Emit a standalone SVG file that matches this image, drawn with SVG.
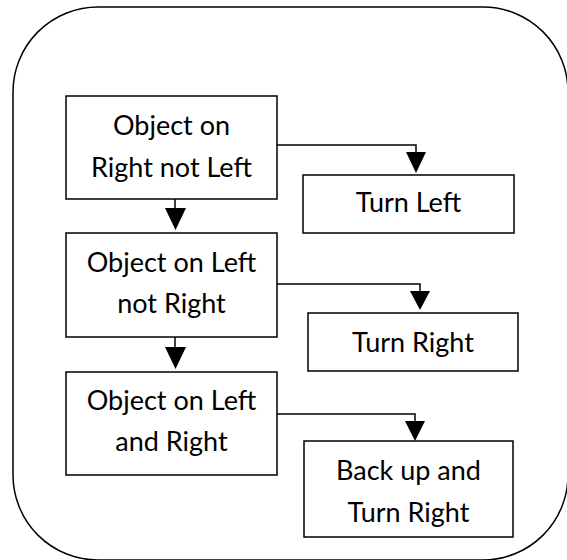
<svg xmlns="http://www.w3.org/2000/svg" width="567" height="560" viewBox="0 0 567 560">
  <style>
    .frame { fill: #ffffff; stroke: #000000; stroke-width: 1.5; }
    .box { fill: #ffffff; stroke: #000000; stroke-width: 1.5; }
    .label { font-family: Lato, "Open Sans", "Liberation Sans", sans-serif; font-size: 27px; fill: #000000; text-anchor: middle; }
    .link { fill: none; stroke: #000000; stroke-width: 1.5; }
    .head { fill: #000000; }
  </style>

  <!-- outer rounded frame -->
  <rect class="frame" x="13" y="7" width="555" height="553" rx="85" ry="85"/>

  <g id="connectors">
    <path class="link" d="M277,145 H416 V154"/>
    <path class="link" d="M175,199 V209"/>
    <path class="link" d="M277,284 H420 V292"/>
    <path class="link" d="M175,337 V347"/>
    <path class="link" d="M277,414 H415 V422"/>
    <polygon class="head" points="406,152 426,152 416,173"/>
    <polygon class="head" points="165,208 186,208 175.5,230"/>
    <polygon class="head" points="410,291 430,291 420,310"/>
    <polygon class="head" points="165,347 186,347 175.5,369"/>
    <polygon class="head" points="405,421 425,421 415,441"/>
  </g>

  <g id="obj-right-not-left">
    <rect class="box" x="66" y="96" width="211" height="103"/>
    <text class="label" x="171.5" y="135">Object on</text>
    <text class="label" x="171.5" y="177">Right not Left</text>
  </g>

  <g id="turn-left">
    <rect class="box" x="303" y="175" width="211" height="58"/>
    <text class="label" x="408.5" y="212">Turn Left</text>
  </g>

  <g id="obj-left-not-right">
    <rect class="box" x="66" y="233" width="211" height="104"/>
    <text class="label" x="171.5" y="272">Object on Left</text>
    <text class="label" x="171.5" y="313">not Right</text>
  </g>

  <g id="turn-right">
    <rect class="box" x="308" y="313" width="210" height="58"/>
    <text class="label" x="413" y="352">Turn Right</text>
  </g>

  <g id="obj-left-and-right">
    <rect class="box" x="66" y="372" width="211" height="103"/>
    <text class="label" x="171.5" y="410">Object on Left</text>
    <text class="label" x="171.5" y="451">and Right</text>
  </g>

  <g id="back-up-turn-right">
    <rect class="box" x="304" y="441" width="209" height="96"/>
    <text class="label" x="408.5" y="480">Back up and</text>
    <text class="label" x="408.5" y="522">Turn Right</text>
  </g>
</svg>
